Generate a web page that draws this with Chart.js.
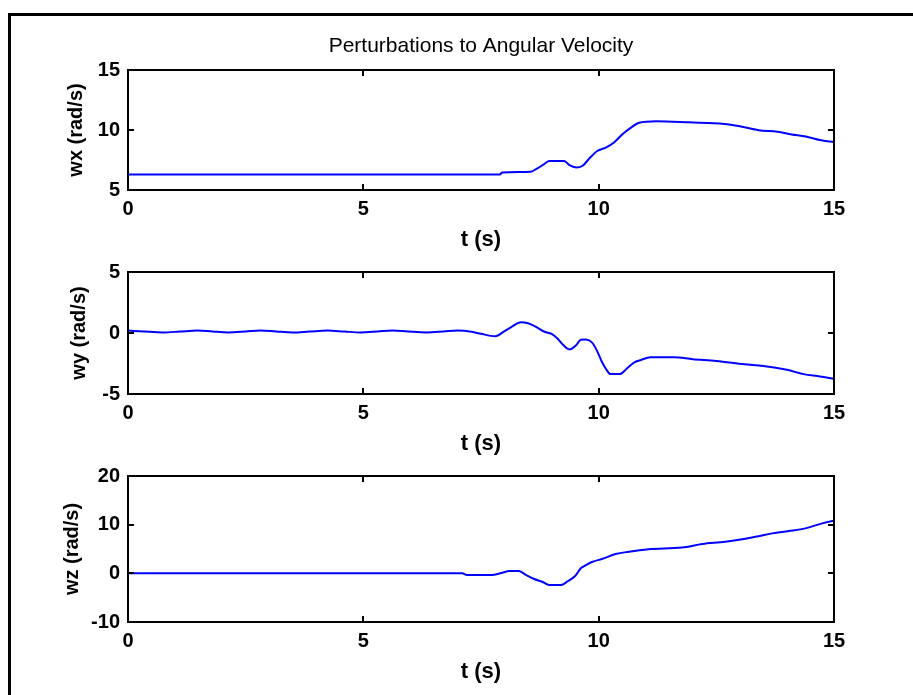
<!DOCTYPE html>
<html>
<head>
<meta charset="utf-8">
<title>Perturbations to Angular Velocity</title>
<script src="https://cdn.jsdelivr.net/npm/chart.js@4.4.1/dist/chart.umd.min.js"></script>
<style>
  html, body { margin: 0; padding: 0; background: #fff; }
  #wrap { position: relative; width: 913px; height: 695px; overflow: hidden; background: #fff; }
  #wrap canvas { position: absolute; left: 0; top: 0; }
</style>
</head>
<body>
<div id="wrap">
  <canvas id="wxChart" width="913" height="695"></canvas>
  <canvas id="wyChart" width="913" height="695"></canvas>
  <canvas id="wzChart" width="913" height="695"></canvas>
</div>
<script>
/* ============================================
   Perturbations to Angular Velocity - 3 stacked subplots
   ============================================ */

const TITLE = 'Perturbations to Angular Velocity';
const X_LABEL = 't (s)';

// wx (rad/s)
const wxTime = [0, 7.9, 7.95, 8.55, 8.67, 8.81, 8.95, 9.27, 9.38, 9.52, 9.66, 9.8, 9.97, 10.15, 10.32, 10.5, 10.68, 10.86, 11.22, 11.92, 12.67, 13.0, 13.4, 13.8, 14.1, 14.4, 14.7, 15];
const wxVals = [6.3, 6.3, 6.45, 6.52, 6.74, 7.07, 7.42, 7.42, 7.07, 6.88, 7.02, 7.62, 8.25, 8.53, 8.94, 9.63, 10.18, 10.6, 10.73, 10.64, 10.51, 10.31, 9.98, 9.85, 9.63, 9.46, 9.16, 9.0];

// wy (rad/s)
const wyTime = [0, 0.35, 0.75, 1.1, 1.48, 1.8, 2.13, 2.5, 2.82, 3.15, 3.5, 3.85, 4.24, 4.6, 4.94, 5.3, 5.62, 5.95, 6.34, 6.7, 7.0,
                7.3, 7.5, 7.8, 8.0, 8.15, 8.35, 8.5, 8.65, 8.85, 9.0, 9.13, 9.25, 9.38, 9.52, 9.62, 9.72, 9.85, 9.95, 10.06,
                10.16, 10.25, 10.45, 10.6, 10.75, 10.9, 11.1, 11.6, 12.0, 12.5, 13.1, 13.5, 14.0, 14.35, 14.7, 15];
const wyVals = [0.2, 0.12, 0.05, 0.12, 0.2, 0.12, 0.05, 0.12, 0.2, 0.12, 0.05, 0.12, 0.2, 0.12, 0.05, 0.12, 0.2, 0.12, 0.05, 0.12, 0.2,
                0.1, -0.07, -0.26, 0.15, 0.5, 0.88, 0.8, 0.55, 0.1, -0.07, -0.47, -0.99, -1.34, -1.0, -0.55, -0.53, -0.75, -1.34, -2.29,
                -2.97, -3.37, -3.37, -2.91, -2.43, -2.21, -1.99, -1.99, -2.15, -2.29, -2.56, -2.7, -3.02, -3.37, -3.56, -3.75];

// wz (rad/s)
const wzTime = [0, 7.1, 7.2, 7.7, 7.95, 8.1, 8.3, 8.45, 8.63, 8.8, 8.95, 9.2, 9.33, 9.5, 9.62, 9.73, 9.87, 10.07, 10.36, 10.64, 11.06, 11.77, 12.2, 12.69, 13.33, 13.69, 14.04, 14.39, 14.75, 15];
const wzVals = [0, 0, -0.35, -0.35, 0.1, 0.5, 0.5, -0.3, -1.17, -1.72, -2.4, -2.4, -1.72, -0.55, 1.03, 1.7, 2.38, 2.94, 3.96, 4.44, 4.95, 5.3, 6.02, 6.49, 7.52, 8.21, 8.69, 9.24, 10.27, 10.8];

const W = 913, H = 695;
const PLOT_LEFT = 128, PLOT_RIGHT = 834;
const X_AXIS_H = 70;
const FONT = "'Liberation Sans', Arial, Helvetica, sans-serif";

function zeroPad(s) {
  s.paddingLeft = 0; s.paddingRight = 0; s.paddingTop = 0; s.paddingBottom = 0;
}

// axes box with inward tick marks (matlab look)
const boxPlugin = {
  id: 'matlabBox',
  afterDatasetsDraw(chart) {
    const { ctx, chartArea: a, scales: { x, y } } = chart;
    const len = 6;
    ctx.save();
    ctx.strokeStyle = '#000';
    ctx.lineWidth = 2;
    ctx.strokeRect(a.left, a.top, a.right - a.left, a.bottom - a.top);
    ctx.beginPath();
    x.ticks.forEach(t => {
      const px = Math.round(x.getPixelForValue(t.value));
      ctx.moveTo(px, a.bottom); ctx.lineTo(px, a.bottom - len);
      ctx.moveTo(px, a.top);    ctx.lineTo(px, a.top + len);
    });
    y.ticks.forEach(t => {
      const py = Math.round(y.getPixelForValue(t.value));
      ctx.moveTo(a.left, py);  ctx.lineTo(a.left + len, py);
      ctx.moveTo(a.right, py); ctx.lineTo(a.right - len, py);
    });
    ctx.stroke();
    ctx.restore();
  }
};

// white page + the figure frame (left and top edges only are visible)
const framePlugin = {
  id: 'frame',
  beforeDraw(chart) {
    const ctx = chart.ctx;
    ctx.save();
    ctx.fillStyle = '#fff';
    ctx.fillRect(0, 0, W, H);
    ctx.strokeStyle = '#000';
    ctx.lineWidth = 3;
    ctx.beginPath();
    ctx.moveTo(9.5, H);
    ctx.lineTo(9.5, 14.5);
    ctx.lineTo(W, 14.5);
    ctx.stroke();
    ctx.restore();
  }
};

function makeChart(id, time, vals, cfg) {
  const points = time.map((t, i) => ({ x: t, y: vals[i] }));
  return new Chart(document.getElementById(id), {
    type: 'line',
    data: {
      datasets: [{
        data: points,
        borderColor: '#0000ff',
        borderWidth: 2,
        pointRadius: 0,
        fill: false,
        cubicInterpolationMode: 'monotone'
      }]
    },
    options: {
      responsive: false,
      animation: false,
      devicePixelRatio: 1,
      events: [],
      layout: {
        padding: { left: 0, right: W - PLOT_RIGHT, top: cfg.top, bottom: H - cfg.bottom - X_AXIS_H }
      },
      plugins: {
        legend: { display: false },
        tooltip: { enabled: false },
        title: cfg.title ? {
          display: true,
          fullSize: false,
          text: cfg.title,
          color: '#000',
          font: { family: FONT, size: 21, weight: 'normal', lineHeight: 1.2 },
          padding: { top: 34, bottom: 10.8 }
        } : { display: false }
      },
      scales: {
        x: {
          type: 'linear',
          min: 0, max: 15,
          ticks: { stepSize: 5, padding: 7, color: '#000', font: { family: FONT, size: 20, weight: 'bold' } },
          grid: { display: false, drawTicks: false },
          border: { display: false },
          title: {
            display: true, text: X_LABEL, color: '#000',
            font: { family: FONT, size: 22, weight: 'bold', lineHeight: 1 },
            padding: { top: 0, bottom: 9 }
          },
          afterFit(s) { s.height = X_AXIS_H; zeroPad(s); }
        },
        y: {
          type: 'linear',
          min: cfg.yMin, max: cfg.yMax,
          ticks: { stepSize: cfg.yStep, padding: 8, color: '#000', font: { family: FONT, size: 20, weight: 'bold' } },
          grid: { display: false, drawTicks: false },
          border: { display: false },
          title: {
            display: true, text: cfg.yLabel, color: '#000',
            font: { family: FONT, size: 20, weight: 'bold', lineHeight: 1 },
            padding: { top: cfg.yTitleX - 10, bottom: 0 }
          },
          afterFit(s) { s.width = PLOT_LEFT; zeroPad(s); }
        }
      }
    },
    plugins: cfg.frame ? [framePlugin, boxPlugin] : [boxPlugin]
  });
}

makeChart('wxChart', wxTime, wxVals, {
  title: TITLE, frame: true, top: 0, bottom: 190,
  yMin: 5, yMax: 15, yStep: 5, yLabel: 'wx (rad/s)', yTitleX: 76
});
makeChart('wyChart', wyTime, wyVals, {
  top: 272, bottom: 394,
  yMin: -5, yMax: 5, yStep: 5, yLabel: 'wy (rad/s)', yTitleX: 79
});
makeChart('wzChart', wzTime, wzVals, {
  top: 476, bottom: 622,
  yMin: -10, yMax: 20, yStep: 10, yLabel: 'wz (rad/s)', yTitleX: 72
});
</script>
</body>
</html>
